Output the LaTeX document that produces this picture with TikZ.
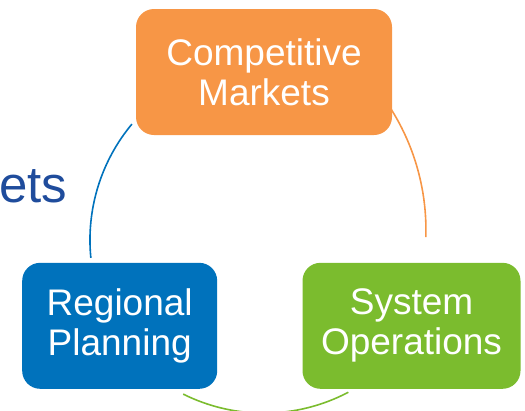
\documentclass[tikz,border=0pt]{standalone}
\usepackage{fontspec}
\setmainfont{Liberation Sans}
\usepackage{tikz}
\usetikzlibrary{positioning}
\usepackage{xcolor}
\definecolor{mktorange}{HTML}{F79646}
\definecolor{planblue}{HTML}{0072BC}
\definecolor{opsgreen}{HTML}{7BBC2E}
\definecolor{tituloblue}{HTML}{1F4C9C}

\begin{document}
\begin{tikzpicture}[x=1pt, y=1pt,
        caixa/.style={rounded corners=18pt, text=white, align=center, inner sep=0pt,
            minimum height=126pt, font=\fontsize{37}{40}\selectfont},
        arco/.style={line width=1.6pt}]
        \useasboundingbox (0,0) rectangle (525,-410);

        % Arcos do ciclo
        \coordinate (mktsai) at (384.9,-99.8);
        \coordinate (opssai) at (183.2,-394.1);
        \coordinate (plansai) at (131.9,-124.1);
        \draw[arco, mktorange] (mktsai) arc[start angle=35, end angle=-1.8, radius=227];
        \draw[arco, opsgreen] (opssai) arc[start angle=243.5, end angle=297.8, radius=181];
        \draw[arco, planblue] (plansai) arc[start angle=140.2, end angle=185.7, radius=181];

        % Titulo cortado
        \node[anchor=base west, inner sep=0pt, text=tituloblue, font=\fontsize{51}{56}\selectfont] (titulo) at (-1,-202) {ets};

        % Caixas do ciclo
        \node[caixa, fill=mktorange, minimum width=256pt] (mercados) at (264,-72) {Competitive\\Markets};
        \node[caixa, fill=planblue, minimum width=195pt] (planejamento) at (119.7,-325.8) {Regional\\Planning};
        \node[caixa, fill=opsgreen, minimum width=218pt] (operacoes) at (411.5,-325.8) {System\\Operations};
    \end{tikzpicture}
\end{document}
